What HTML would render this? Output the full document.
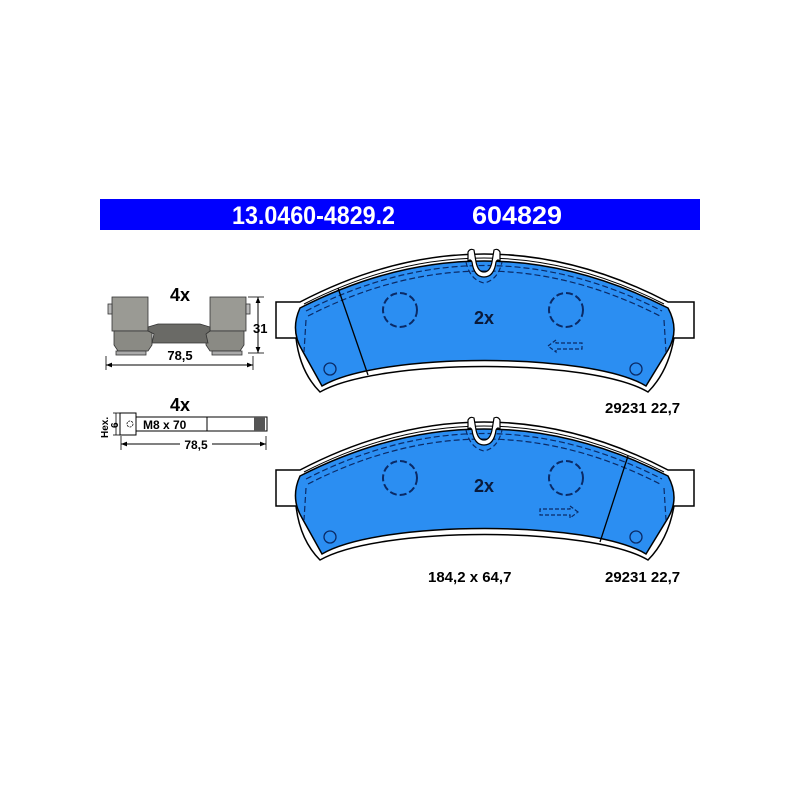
<!DOCTYPE html>
<html><head><style>
html,body{margin:0;padding:0;background:#fff;}
svg{display:block;}
text{font-family:"Liberation Sans",Arial,sans-serif;font-weight:bold;}
</style></head><body>
<svg width="800" height="800" viewBox="0 0 800 800" xmlns="http://www.w3.org/2000/svg">
<defs>
<marker id="ar" viewBox="0 0 10 10" refX="10" refY="5" markerWidth="8" markerHeight="6" orient="auto-start-reverse"><path d="M0,1 L10,5 L0,9 Z" fill="#000"/></marker>
<g id="padbase">
  <path d="M276,302 L300,302 Q484,206 668,302 L694,302 L694,338 L674,338 Q668,372 648,392 C590,358 380,358 320,392 Q300,372 296,338 L276,338 Z" fill="#fff" stroke="#000" stroke-width="1.5"/>
  <path d="M300,308 Q484,214 668,308 Q680,330 668,350 L646,386 C590,352 380,352 322,386 L302,350 Q290,330 300,308 Z" fill="#2b8ef2" stroke="#000" stroke-width="1.5"/>
  <path d="M304,304 Q484,212 664,304" fill="none" stroke="#000" stroke-width="1"/>
  <path d="M306,311 Q484,220 662,311" fill="none" stroke="#0a2a66" stroke-width="1.2" stroke-dasharray="6,3"/>
  <path d="M308,316 Q484,226 660,316" fill="none" stroke="#0a2a66" stroke-width="1.2" stroke-dasharray="6,3"/>
  <path d="M306,320 L304,352 M664,320 L666,352" fill="none" stroke="#0a2a66" stroke-width="1.2" stroke-dasharray="6,3"/>
  <path d="M466,262 Q470,280 484,283 Q498,280 502,262" fill="none" stroke="#0a2a66" stroke-width="1.2" stroke-dasharray="5,3"/>
  <path d="M468,262 L468,252 Q470,248 474,250 L476,262 Q478,272 484,272 Q490,272 492,262 L494,250 Q498,248 500,252 L500,262 Q498,258 496,262 Q494,277 484,277 Q474,277 472,262 Q470,258 468,262 Z" fill="#fff" stroke="#000" stroke-width="1.2"/>
  <circle cx="400" cy="310" r="17" fill="none" stroke="#0a2a66" stroke-width="2" stroke-dasharray="7,3"/>
  <circle cx="566" cy="310" r="17" fill="none" stroke="#0a2a66" stroke-width="2" stroke-dasharray="7,3"/>
  <circle cx="330" cy="369" r="6" fill="none" stroke="#0a2a66" stroke-width="1.3"/>
  <circle cx="636" cy="369" r="6" fill="none" stroke="#0a2a66" stroke-width="1.3"/>
  <text x="484" y="324" font-size="18" text-anchor="middle" fill="#0a1a3a">2x</text>
</g>
</defs>

<rect x="100" y="199" width="600" height="31" fill="#0000ff"/>
<text x="232" y="224" font-size="25" fill="#fff" textLength="163" lengthAdjust="spacingAndGlyphs">13.0460-4829.2</text>
<text x="472" y="224" font-size="25" fill="#fff" textLength="90" lengthAdjust="spacingAndGlyphs">604829</text>

<use href="#padbase"/>
<line x1="338" y1="288" x2="368" y2="375" stroke="#000" stroke-width="1.3"/>
<path d="M548,346 L556,340 L556,343 L582,343 L582,349 L556,349 L556,352 Z" fill="none" stroke="#0a2a66" stroke-width="1.2" stroke-dasharray="4,2"/>
<text x="605" y="413" font-size="15" fill="#000">29231 22,7</text>

<g transform="translate(0,168)"><use href="#padbase"/></g>
<line x1="628" y1="456" x2="600" y2="542" stroke="#000" stroke-width="1.3"/>
<path d="M578,512 L570,506 L570,509 L540,509 L540,515 L570,515 L570,518 Z" fill="none" stroke="#0a2a66" stroke-width="1.2" stroke-dasharray="4,2"/>
<text x="605" y="582" font-size="15" fill="#000">29231 22,7</text>
<text x="428" y="582" font-size="15" fill="#000">184,2 x 64,7</text>

<text x="180" y="301" font-size="18" text-anchor="middle" fill="#000">4x</text>
<g stroke="#333" stroke-width="0.8">
  <rect x="112" y="297" width="36" height="34" fill="#9a9a94"/>
  <rect x="108" y="304" width="4" height="10" fill="#bbb"/>
  <path d="M114,331 L152,331 L152,345 L148,351 L118,351 L114,345 Z" fill="#8a8a84"/>
  <rect x="116" y="351" width="30" height="4" fill="#aaa"/>
  <rect x="210" y="297" width="36" height="34" fill="#9a9a94"/>
  <rect x="246" y="304" width="4" height="10" fill="#bbb"/>
  <path d="M206,331 L244,331 L244,345 L240,351 L210,351 L206,345 Z" fill="#8a8a84"/>
  <rect x="212" y="351" width="30" height="4" fill="#aaa"/>
  <path d="M148,327 L158,324 L200,324 L210,327 L210,331 L206,334 L208,343 L152,343 L154,334 L148,331 Z" fill="#6a6a66"/>
</g>
<line x1="258" y1="297" x2="258" y2="353" stroke="#000" stroke-width="1" marker-start="url(#ar)" marker-end="url(#ar)"/>
<line x1="248" y1="297" x2="264" y2="297" stroke="#000" stroke-width="0.8"/>
<line x1="248" y1="353" x2="264" y2="353" stroke="#000" stroke-width="0.8"/>
<text x="253" y="333" font-size="13" fill="#000">31</text>
<line x1="106" y1="365" x2="253" y2="365" stroke="#000" stroke-width="1" marker-start="url(#ar)" marker-end="url(#ar)"/>
<line x1="106" y1="356" x2="106" y2="370" stroke="#000" stroke-width="0.8"/>
<line x1="253" y1="356" x2="253" y2="370" stroke="#000" stroke-width="0.8"/>
<text x="180" y="360" font-size="13" text-anchor="middle" fill="#000">78,5</text>

<text x="180" y="411" font-size="18" text-anchor="middle" fill="#000">4x</text>
<rect x="120" y="413" width="16" height="22" fill="#fff" stroke="#000" stroke-width="1"/>
<rect x="136" y="417" width="131" height="14" fill="#fff" stroke="#000" stroke-width="1"/>
<line x1="207" y1="417" x2="207" y2="431" stroke="#000" stroke-width="1"/>
<rect x="254" y="417" width="11" height="14" fill="#555"/>
<circle cx="130" cy="424" r="3" fill="none" stroke="#000" stroke-width="0.8" stroke-dasharray="2,1"/>
<text x="143" y="429" font-size="12" fill="#000">M8 x 70</text>
<line x1="116" y1="413" x2="116" y2="435" stroke="#000" stroke-width="0.8"/>
<line x1="113" y1="413" x2="120" y2="413" stroke="#000" stroke-width="0.8"/>
<line x1="113" y1="435" x2="120" y2="435" stroke="#000" stroke-width="0.8"/>
<text transform="translate(108,438) rotate(-90)" font-size="10" fill="#000">Hex.</text>
<text transform="translate(118,428) rotate(-90)" font-size="10" fill="#000">6</text>
<line x1="121" y1="444" x2="266" y2="444" stroke="#000" stroke-width="1" marker-start="url(#ar)" marker-end="url(#ar)"/>
<line x1="121" y1="436" x2="121" y2="450" stroke="#000" stroke-width="0.8"/>
<line x1="266" y1="436" x2="266" y2="450" stroke="#000" stroke-width="0.8"/>
<rect x="180" y="438" width="32" height="12" fill="#fff"/>
<text x="196" y="449" font-size="12" text-anchor="middle" fill="#000">78,5</text>
</svg>
</body></html>
